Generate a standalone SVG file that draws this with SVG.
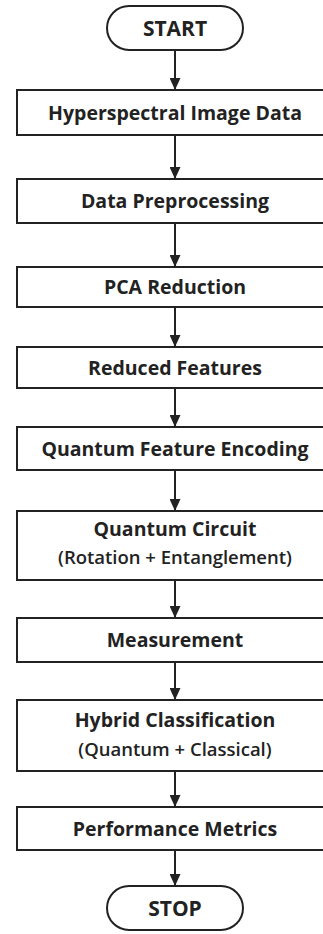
<svg xmlns="http://www.w3.org/2000/svg" width="323" height="934" viewBox="0 0 323 934">
<defs>
<style>
.box{fill:#fff;stroke:#222;stroke-width:2}
.t{font-family:"Open Sans","Noto Sans",sans-serif;font-weight:700;font-size:19.5px;fill:#222;text-anchor:middle}
.e{font-family:"Open Sans","Noto Sans",sans-serif;font-weight:700;font-size:21px;fill:#222;text-anchor:middle}
.s{font-family:"Open Sans","Noto Sans",sans-serif;font-weight:600;font-size:18.5px;fill:#222;text-anchor:middle}
.c{stroke:#222;stroke-width:2;fill:none}
</style>
<marker id="ah" markerWidth="12" markerHeight="11" refX="11" refY="5.5" orient="auto" markerUnits="userSpaceOnUse" viewBox="0 0 12 11">
<path d="M0,0 L12,5.5 L0,11 z" fill="#222"/>
</marker>
</defs>
<rect width="323" height="934" fill="#fff"/>
<g id="connectors">
<line class="c" x1="175" y1="50" x2="175" y2="89" marker-end="url(#ah)"/>
<line class="c" x1="175" y1="135" x2="175" y2="178" marker-end="url(#ah)"/>
<line class="c" x1="175" y1="223" x2="175" y2="266" marker-end="url(#ah)"/>
<line class="c" x1="175" y1="307" x2="175" y2="346" marker-end="url(#ah)"/>
<line class="c" x1="175" y1="388" x2="175" y2="426" marker-end="url(#ah)"/>
<line class="c" x1="175" y1="470" x2="175" y2="510" marker-end="url(#ah)"/>
<line class="c" x1="175" y1="580" x2="175" y2="617" marker-end="url(#ah)"/>
<line class="c" x1="175" y1="662" x2="175" y2="699" marker-end="url(#ah)"/>
<line class="c" x1="175" y1="771" x2="175" y2="806" marker-end="url(#ah)"/>
<line class="c" x1="175" y1="850" x2="175" y2="885" marker-end="url(#ah)"/>
</g>
<g id="start"><rect class="box" x="107" y="6" width="136" height="44" rx="22"/><text class="e" x="175" y="35.5">START</text></g>
<g id="n1"><rect class="box" x="17" y="90" width="316" height="45"/><text class="t" x="175" y="119.5">Hyperspectral Image Data</text></g>
<g id="n2"><rect class="box" x="17" y="179" width="316" height="44"/><text class="t" x="175" y="208">Data Preprocessing</text></g>
<g id="n3"><rect class="box" x="17" y="267" width="316" height="40"/><text class="t" x="175" y="294">PCA Reduction</text></g>
<g id="n4"><rect class="box" x="17" y="347" width="316" height="41"/><text class="t" x="175" y="374.5">Reduced Features</text></g>
<g id="n5"><rect class="box" x="17" y="427" width="316" height="43"/><text class="t" x="175" y="455.5">Quantum Feature Encoding</text></g>
<g id="n6"><rect class="box" x="17" y="511" width="316" height="69"/><text class="t" x="175" y="536">Quantum Circuit</text><text class="s" x="175" y="564">(Rotation + Entanglement)</text></g>
<g id="n7"><rect class="box" x="17" y="618" width="316" height="44"/><text class="t" x="175" y="647">Measurement</text></g>
<g id="n8"><rect class="box" x="17" y="700" width="316" height="71"/><text class="t" x="175" y="727">Hybrid Classification</text><text class="s" x="175" y="756">(Quantum + Classical)</text></g>
<g id="n9"><rect class="box" x="17" y="807" width="316" height="43"/><text class="t" x="175" y="835.5">Performance Metrics</text></g>
<g id="stop"><rect class="box" x="107" y="886" width="136" height="44" rx="22"/><text class="e" x="175" y="915.5">STOP</text></g>
</svg>
